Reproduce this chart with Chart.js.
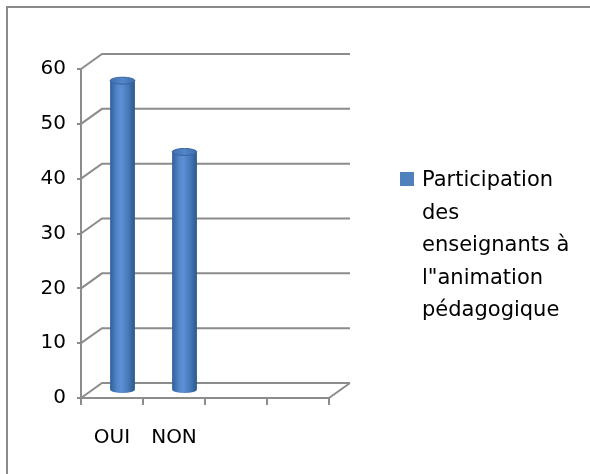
<!DOCTYPE html>
<html>
<head>
<meta charset="utf-8">
<script src="https://cdn.jsdelivr.net/npm/chart.js@4/dist/chart.umd.min.js"></script>
<style>
  html, body { margin: 0; padding: 0; background: #fff; }
  #wrap { position: relative; width: 590px; height: 474px; }
</style>
</head>
<body>
<div id="wrap"><canvas id="chart"></canvas></div>
<script>
// data
var categories = ['OUI', 'NON', '', ''];
var participation = [56.5, 43.5, null, null];
var seriesLabel = 'Participation des enseignants à l"animation pédagogique';
var yMin = 0, yMax = 60, yStep = 10;

var gridColor = '#8c8c8c';
var barColor = '#4f81bd';
var fontFamily = '"DejaVu Sans", sans-serif';

// fake 3D depth of the plot box
var depthX = 21, depthY = -15;

var threeD = {
    id: 'threeD',
    beforeDraw: function (chart) {
        var ctx = chart.ctx;
        // outer frame (runs off the right and bottom edges)
        ctx.save();
        ctx.strokeStyle = '#8a8a8a';
        ctx.lineWidth = 2;
        ctx.strokeRect(7, 7, 700, 600);
        ctx.restore();
    },
    beforeDatasetsDraw: function (chart) {
        var ctx = chart.ctx;
        var area = chart.chartArea;
        var y = chart.scales.y;

        // back wall gridlines + floor
        ctx.save();
        ctx.strokeStyle = gridColor;
        ctx.lineWidth = 2;
        ctx.beginPath();
        y.ticks.forEach(function (t) {
            var py = y.getPixelForValue(t.value);
            ctx.moveTo(area.left, py);
            ctx.lineTo(area.left + depthX, py + depthY);
            ctx.lineTo(area.right + depthX, py + depthY);
        });
        ctx.moveTo(area.right + depthX, area.bottom + depthY);
        ctx.lineTo(area.right, area.bottom);
        ctx.stroke();
        ctx.restore();

        // cylinders
        var meta = chart.getDatasetMeta(0);
        meta.data.forEach(function (bar, i) {
            if (participation[i] == null) return;
            var cx = bar.x + depthX / 2;
            var rx = bar.width / 2;
            var ry = 3.5;
            var topY = bar.y + depthY / 2;
            var baseY = bar.base + depthY / 2;

            var g = ctx.createLinearGradient(cx - rx, 0, cx + rx, 0);
            g.addColorStop(0, '#30609a');
            g.addColorStop(0.3, '#5389cb');
            g.addColorStop(0.45, '#5b91d4');
            g.addColorStop(0.75, '#4477b6');
            g.addColorStop(1, '#2b5788');

            ctx.save();
            ctx.fillStyle = g;
            ctx.beginPath();
            ctx.moveTo(cx - rx, topY);
            ctx.lineTo(cx - rx, baseY);
            ctx.ellipse(cx, baseY, rx, ry, 0, Math.PI, 0, true);
            ctx.lineTo(cx + rx, topY);
            ctx.closePath();
            ctx.fill();

            var tg = ctx.createLinearGradient(cx - rx, 0, cx + rx, 0);
            tg.addColorStop(0, '#3f6fad');
            tg.addColorStop(0.5, '#5287c8');
            tg.addColorStop(1, '#3e6dab');
            ctx.fillStyle = tg;
            ctx.strokeStyle = '#36649e';
            ctx.lineWidth = 1;
            ctx.beginPath();
            ctx.ellipse(cx, topY, rx, ry, 0, 0, Math.PI * 2);
            ctx.fill();
            ctx.stroke();
            ctx.restore();
        });
        return false;
    },
    afterDraw: function (chart) {
        // legend on the right, label wrapped like the original
        var ctx = chart.ctx;
        var ds = chart.data.datasets[0];
        ctx.save();
        ctx.font = '21px ' + fontFamily;
        var words = ds.label.split(' ');
        var lines = [], line = '';
        words.forEach(function (w) {
            var test = line ? line + ' ' + w : w;
            if (ctx.measureText(test).width > 158 && line) {
                lines.push(line);
                line = w;
            } else {
                line = test;
            }
        });
        if (line) lines.push(line);

        ctx.fillStyle = barColor;
        ctx.fillRect(400, 172, 14, 14);
        ctx.fillStyle = '#000';
        ctx.textBaseline = 'alphabetic';
        lines.forEach(function (l, i) {
            ctx.fillText(l, 422, 186 + i * 32.5);
        });
        ctx.restore();
    }
};

new Chart(document.getElementById('chart').getContext('2d'), {
    type: 'bar',
    data: {
        labels: categories,
        datasets: [
            {
                label: seriesLabel,
                data: participation,
                backgroundColor: barColor,
                categoryPercentage: 1,
                barPercentage: 0.4
            }
        ]
    },
    options: {
        responsive: true,
        maintainAspectRatio: false,
        animation: false,
        layout: { padding: { left: 0, top: 69, right: 261, bottom: 0 } },
        plugins: {
            legend: { display: false },
            tooltip: { enabled: false }
        },
        scales: {
            x: {
                grid: {
                    offset: true,
                    drawOnChartArea: false,
                    drawTicks: true,
                    tickLength: 7,
                    color: gridColor,
                    lineWidth: 2
                },
                border: { display: true, color: gridColor, width: 2 },
                ticks: {
                    color: '#000',
                    font: { family: fontFamily, size: 20 },
                    padding: 21,
                    maxRotation: 0,
                    autoSkip: false
                },
                afterFit: function (scale) { scale.height = 76; }
            },
            y: {
                min: yMin,
                max: yMax,
                grid: {
                    drawOnChartArea: false,
                    drawTicks: true,
                    tickLength: 4,
                    color: gridColor,
                    lineWidth: 2
                },
                border: { display: true, color: gridColor, width: 2 },
                ticks: {
                    stepSize: yStep,
                    color: '#000',
                    font: { family: fontFamily, size: 20 },
                    padding: 11
                },
                afterFit: function (scale) { scale.width = 81; }
            }
        }
    },
    plugins: [threeD]
});
</script>
</body>
</html>
